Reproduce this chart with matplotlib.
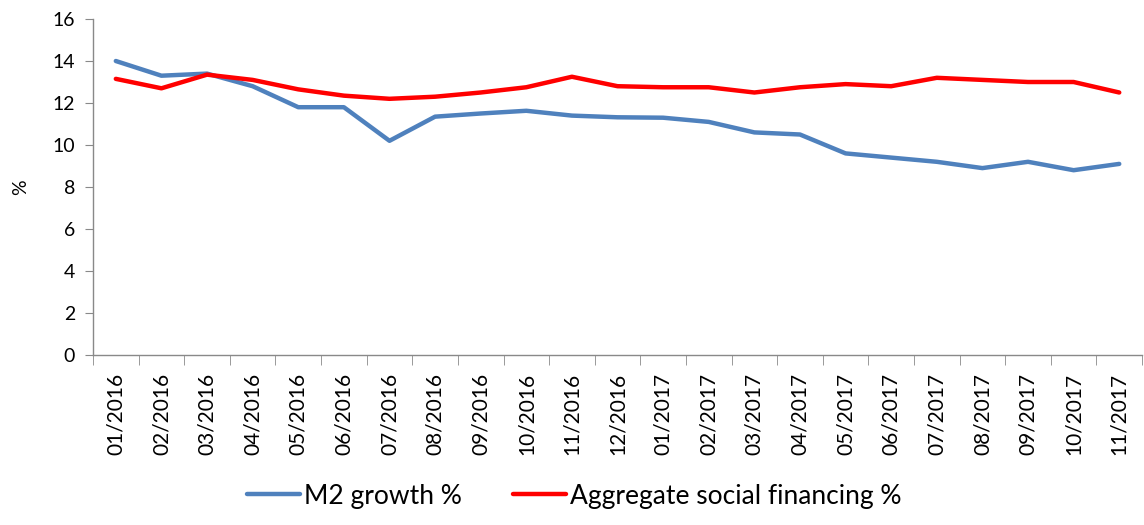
import matplotlib
matplotlib.use("Agg")
import matplotlib.pyplot as plt
from matplotlib.ticker import FixedLocator

plt.rcParams['font.family'] = ['Lato', 'DejaVu Sans']

months = ['01/2016', '02/2016', '03/2016', '04/2016', '05/2016', '06/2016',
          '07/2016', '08/2016', '09/2016', '10/2016', '11/2016', '12/2016',
          '01/2017', '02/2017', '03/2017', '04/2017', '05/2017', '06/2017',
          '07/2017', '08/2017', '09/2017', '10/2017', '11/2017']
m2_growth = [14.0, 13.3, 13.4, 12.8, 11.8, 11.8, 10.2, 11.35, 11.5, 11.63,
             11.4, 11.32, 11.3, 11.1, 10.6, 10.5, 9.6, 9.4, 9.2, 8.9,
             9.2, 8.8, 9.1]
asf_growth = [13.15, 12.7, 13.35, 13.1, 12.65, 12.35, 12.2, 12.3, 12.5, 12.75,
              13.25, 12.8, 12.75, 12.75, 12.5, 12.75, 12.9, 12.8, 13.2, 13.1,
              13.0, 13.0, 12.5]

fig = plt.figure(figsize=(11.44, 5.25), dpi=100)
ax = fig.add_axes([0.0813, 0.3238, 0.917, 0.64])

x = list(range(len(months)))
ax.plot(x, m2_growth, color='#4F81BD', lw=3.2, label='M2 growth %', solid_capstyle='round')
ax.plot(x, asf_growth, color='#FF0000', lw=3.2, label='Aggregate social financing %', solid_capstyle='round')

ax.set_xlim(-0.5, len(months) - 0.5)
ax.set_ylim(0, 16)
ax.set_yticks(range(0, 17, 2))
ax.set_xticks(x)
ax.set_xticklabels(months, rotation=90, fontsize=15)
# tick marks sit between the categories, like the Excel original
ax.xaxis.set_minor_locator(FixedLocator([i - 0.5 for i in range(len(months) + 1)]))
ax.tick_params(axis='x', which='major', length=0, pad=13)
ax.tick_params(axis='x', which='minor', length=7, color='#898989', direction='out')
ax.tick_params(axis='y', length=6, color='#898989', labelsize=14, pad=7)

for side in ['top', 'right']:
    ax.spines[side].set_visible(False)
for side in ['left', 'bottom']:
    ax.spines[side].set_color('#898989')
    ax.spines[side].set_linewidth(1)

ax.set_ylabel('%', fontsize=14, labelpad=17)

fig.legend(loc='center', bbox_to_anchor=(0.502, 0.055), ncol=2, frameon=False,
           fontsize=19, handlelength=2.0, columnspacing=1.95, handletextpad=0.15)

fig.savefig('out.png', dpi=100)
